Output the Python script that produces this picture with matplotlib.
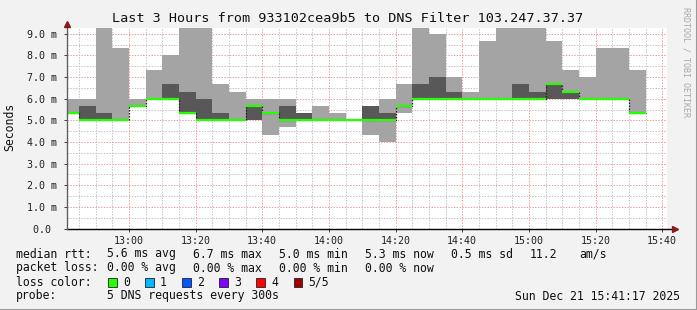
import matplotlib.pyplot as plt
from matplotlib.patches import Rectangle

# smokeping: 5 DNS pings per 5 min step, values in ms (sorted ping1 <= ... <= ping5)
times = ['12:45', '12:50', '12:55', '13:00', '13:05', '13:10', '13:15', '13:20',
         '13:25', '13:30', '13:35', '13:40', '13:45', '13:50', '13:55', '14:00',
         '14:05', '14:10', '14:15', '14:20', '14:25', '14:30', '14:35', '14:40',
         '14:45', '14:50', '14:55', '15:00', '15:05', '15:10', '15:15', '15:20',
         '15:25', '15:30', '15:35']
ping1 = [5.33, 5.0, 5.0, 5.0, 5.67, 6.0, 6.0, 5.33, 5.0, 5.0, 5.0, 5.0, 4.33, 4.67, 5.0, 5.0,
         5.0, 5.0, 4.33, 4.0, 5.33, 6.0, 6.0, 6.0, 6.0, 6.0, 6.0, 6.0, 6.0, 6.0, 6.0, 6.0,
         6.0, 6.0, 5.33]
ping2 = [5.33, 5.0, 5.0, 5.0, 5.67, 6.0, 6.0, 5.33, 5.0, 5.0, 5.0, 5.0, 5.33, 5.0, 5.0, 5.0,
         5.0, 5.0, 5.0, 5.0, 5.67, 6.0, 6.0, 6.0, 6.0, 6.0, 6.0, 6.0, 6.0, 6.0, 6.0, 6.0,
         6.0, 6.0, 5.33]
median = [5.33, 5.0, 5.0, 5.0, 5.67, 6.0, 6.0, 5.33, 5.0, 5.0, 5.0, 5.67, 5.33, 5.0, 5.0, 5.0,
          5.0, 5.0, 5.0, 5.0, 5.67, 6.0, 6.0, 6.0, 6.0, 6.0, 6.0, 6.0, 6.0, 6.67, 6.33, 6.0,
          6.0, 6.0, 5.33]
ping4 = [5.33, 5.67, 5.33, 5.0, 5.67, 6.0, 6.67, 6.33, 6.0, 5.33, 5.0, 5.67, 5.33, 5.67, 5.33, 5.0,
         5.0, 5.0, 5.67, 5.33, 5.67, 6.67, 7.0, 6.33, 6.0, 6.0, 6.0, 6.67, 6.33, 6.67, 6.33, 6.0,
         6.0, 6.0, 5.33]
ping5 = [6.0, 6.0, 9.5, 8.33, 6.0, 7.33, 8.0, 9.5, 9.5, 6.67, 6.33, 6.0, 6.0, 6.0, 5.33, 5.67,
         5.33, 5.0, 5.67, 6.0, 6.67, 9.5, 9.0, 7.0, 6.33, 8.67, 9.5, 9.5, 9.5, 8.67, 7.33, 7.0,
         8.33, 8.33, 7.33]

xtick_labels = ['13:00', '13:20', '13:40', '14:00', '14:20', '14:40', '15:00', '15:20', '15:40']
ytick_values = [0, 1, 2, 3, 4, 5, 6, 7, 8, 9]

loss_labels = ['0', '1', '2', '3', '4', '5/5']
loss_colors = ['#26ff00', '#00b8ff', '#0059ff', '#7e00ff', '#ff0000', '#a10000']


def mins(t):
    h, m = t.split(':')
    return int(h) * 60 + int(m)


t_start = 12 * 60 + 41 + 17 / 60
t_end = 15 * 60 + 41 + 17 / 60

ends = [mins(t) for t in times]
starts = [max(e - 5, t_start) for e in ends]
xs = starts + [ends[-1]]

W, H = 697, 310
fig = plt.figure(figsize=(W / 100, H / 100), dpi=100)
fig.patch.set_facecolor('#f2f2f2')
ax = fig.add_axes([66.5 / W, (H - 228.6) / H, 600 / W, 200.3 / H])
ax.set_facecolor('white')
ax.set_xlim(t_start, t_end)
ax.set_ylim(0, 9.25)
for s in ax.spines.values():
    s.set_visible(False)

# grid
dot = (0, (1.4, 1.4))
for v in [i * 0.5 for i in range(19)]:
    if v % 1:
        ax.axhline(v, color='#c4c4c4', lw=0.72, ls=dot, zorder=0)
    elif v > 0:
        ax.axhline(v, color='#f09a9a', lw=0.72, ls=dot, zorder=0)
for m in range(765, 945, 5):
    if (m - 780) % 20:
        ax.axvline(m, color='#c4c4c4', lw=0.72, ls=dot, zorder=0)
    else:
        ax.axvline(m, color='#f09a9a', lw=0.72, ls=dot, zorder=0)

# smoke
def ext(a):
    return a + [a[-1]]

ax.fill_between(xs, ext(ping1), ext(ping5), step='post', color='#a4a4a4', lw=0, zorder=2)
ax.fill_between(xs, ext(ping2), ext(ping4), step='post', color='#585858', lw=0, zorder=3)

# median
ax.step(xs, ext(median), where='post', color='#202020', lw=0.9, ls=(0, (1.2, 1.2)), zorder=4)
ax.hlines(median, starts, ends, color=loss_colors[0], lw=1.6, zorder=5)

# axes & ticks
ax.set_xticks([mins(t) for t in xtick_labels])
ax.set_xticklabels(xtick_labels)
ax.set_yticks(ytick_values)
ax.set_yticklabels(['%.1f m' % v if v else '%.1f ' % v for v in ytick_values])
ax.tick_params(axis='both', length=2, width=0.7, color='#404040', labelsize=7.2,
               labelcolor='#202020')
ax.tick_params(axis='y', pad=5)
ax.tick_params(axis='x', pad=3)
for lab in ax.get_xticklabels() + ax.get_yticklabels():
    lab.set_family('DejaVu Sans Mono')

ax.plot([0, 1 + 5 / 600], [0, 0], transform=ax.transAxes, color='black', lw=1,
        clip_on=False, zorder=6)
ax.plot([0, 0], [0, 1 + 2 / 200], transform=ax.transAxes, color='#606060', lw=1,
        clip_on=False, zorder=6)
ax.plot([1 + 8 / 600], [0], '>', transform=ax.transAxes, color='#8b1a1a', ms=4,
        clip_on=False, zorder=7)
ax.plot([0], [1 + 4 / 200], '^', transform=ax.transAxes, color='#8b1a1a', ms=4,
        clip_on=False, zorder=7)

mono = 'DejaVu Sans Mono'
def ftext(x, y, s, **kw):
    kw.setdefault('family', mono)
    kw.setdefault('fontsize', 8.3)
    kw.setdefault('va', 'center')
    kw.setdefault('color', '#101010')
    fig.text(x / W, 1 - y / H, s, **kw)

ftext(348, 19, 'Last 3 Hours from 933102cea9b5 to DNS Filter 103.247.37.37',
      fontsize=9.7, ha='center')
ftext(10, 127, 'Seconds', rotation=90, ha='center')
ftext(686, 62, 'RRDTOOL / TOBI OETIKER', rotation=-90, ha='center', fontsize=6,
      color='#a8a8a8')

# legend rows
ftext(16, 254, 'median rtt:')
for x, s in zip([107, 193, 279, 365, 451, 530, 579],
                ['5.6 ms avg', '6.7 ms max', '5.0 ms min', '5.3 ms now', '0.5 ms sd',
                 '11.2', 'am/s']):
    ftext(x, 254, s)
ftext(16, 268, 'packet loss:')
for x, s in zip([107, 193, 279, 365],
                ['0.00 % avg', '0.00 % max', '0.00 % min', '0.00 % now']):
    ftext(x, 268, s)
ftext(16, 282, 'loss color:')
for i, (lab, col) in enumerate(zip(loss_labels, loss_colors)):
    bx = 108 + i * 37.1
    fig.patches.append(Rectangle((bx / W, 1 - 287 / H), 8.5 / W, 9 / H, transform=fig.transFigure,
                                 facecolor=col, edgecolor='#202020', lw=0.6))
    ftext(bx + 15, 282, lab)
ftext(16, 296, 'probe:')
ftext(107, 296, '5 DNS requests every 300s')
ftext(680, 296, 'Sun Dec 21 15:41:17 2025', ha='right')

# frame shadow
fig.add_artist(plt.Line2D([0, 1], [0.5 / H, 0.5 / H], transform=fig.transFigure,
                          color='#9a9a9a', lw=1.5))
fig.add_artist(plt.Line2D([1 - 0.5 / W, 1 - 0.5 / W], [0, 1], transform=fig.transFigure,
                          color='#9a9a9a', lw=1.5))

fig.savefig('out.png', dpi=100, facecolor=fig.get_facecolor())
